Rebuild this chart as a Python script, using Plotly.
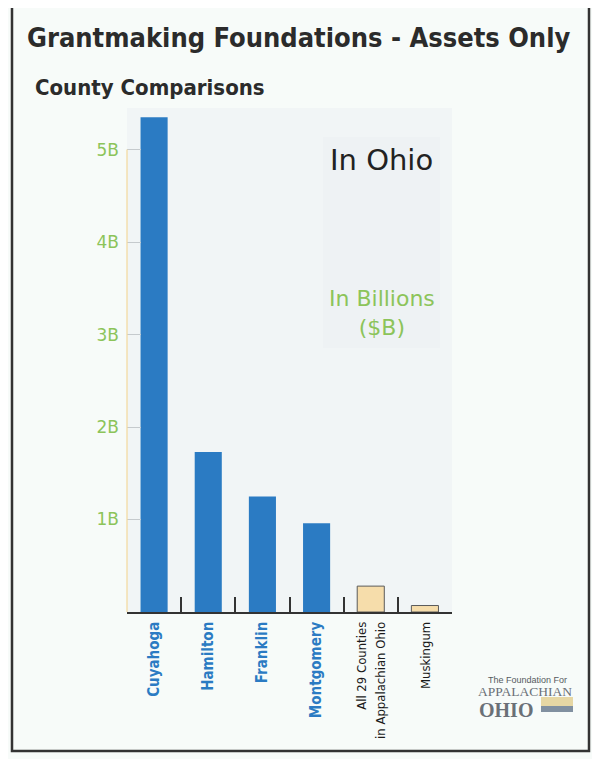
import plotly.graph_objects as go

# ---- data ----
counties = ["Cuyahoga", "Hamilton", "Franklin", "Montgomery",
            "All 29 Counties<br>in Appalachian Ohio", "Muskingum"]
assets_billions = [5.35, 1.73, 1.25, 0.96, 0.28, 0.07]
groups = ["metro", "metro", "metro", "metro", "appalachian", "appalachian"]
ytick_vals = [1, 2, 3, 4, 5]
ytick_text = ["1B", "2B", "3B", "4B", "5B"]

# ---- styles ----
OFF = 8                      # page body margin in the browser
W, H = 600 - OFF, 759 - OFF
ML, MR, MT, MB = 119, 148, 100, 147
BLUE = "#2b7bc3"
BEIGE = "#f6ddab"
GREEN = "#8cc45a"
COND = "DejaVu Sans Condensed, DejaVu Sans, sans-serif"
VERD = "DejaVu Sans, Verdana, sans-serif"
SERIF = "Liberation Serif, DejaVu Serif, serif"

PW = W - ML - MR
PH = H - MT - MB


def px(x):
    """window pixel x (reference) -> paper x"""
    return (x - OFF - ML) / PW


def py(y):
    """window pixel y (reference) -> paper y"""
    return (H - MB - (y - OFF)) / PH


colors = [BLUE if g == "metro" else BEIGE for g in groups]
line_colors = [BLUE if g == "metro" else "#5a5a5a" for g in groups]
line_widths = [0 if g == "metro" else 1 for g in groups]

ticktext = []
for name, g in zip(counties, groups):
    if g == "metro":
        ticktext.append(f'<span style="color:{BLUE}"><b>{name}</b></span>')
    else:
        ticktext.append(f'<span style="color:#1a1a1a;font-size:13px">{name}</span>')

fig = go.Figure(go.Bar(
    x=counties, y=assets_billions,
    marker=dict(color=colors, line=dict(color=line_colors, width=line_widths)),
    hoverinfo="skip",
))

shapes = [
    # outer frame
    dict(type="rect", xref="paper", yref="paper",
         x0=px(12), x1=px(589), y0=py(751), y1=py(5),
         line=dict(color="#333333", width=2.5), fillcolor="rgba(0,0,0,0)", layer="below"),
    # shaded box behind notes
    dict(type="rect", xref="paper", yref="paper",
         x0=px(323), x1=px(440), y0=py(348), y1=py(137),
         line=dict(width=0), fillcolor="#eef2f4", layer="below"),
    # yellow y-axis line
    dict(type="line", xref="paper", yref="y", x0=0, x1=0, y0=0, y1=5,
         line=dict(color="#f3d99c", width=1.2)),
    # logo landscape
    dict(type="rect", xref="paper", yref="paper",
         x0=px(541), x1=px(573), y0=py(706), y1=py(697),
         line=dict(width=0), fillcolor="#e6d7a4"),
    dict(type="rect", xref="paper", yref="paper",
         x0=px(541), x1=px(573), y0=py(712), y1=py(706),
         line=dict(width=0), fillcolor="#8190a0"),
]

annotations = [
    dict(text="<b>Grantmaking Foundations - Assets Only</b>", xref="paper", yref="paper",
         x=px(25), y=py(37), xanchor="left", yanchor="middle", showarrow=False,
         font=dict(family=COND, size=27, color="#2b2b2b")),
    dict(text="<b>County Comparisons</b>", xref="paper", yref="paper",
         x=px(33), y=py(88), xanchor="left", yanchor="middle", showarrow=False,
         font=dict(family=COND, size=22, color="#2b2b2b")),
    dict(text="In Ohio", xref="paper", yref="paper",
         x=px(381), y=py(160), xanchor="center", yanchor="middle", showarrow=False,
         font=dict(family=VERD, size=29, color="#222222")),
    dict(text="In Billions<br>($B)", xref="paper", yref="paper",
         x=px(382), y=py(313), xanchor="center", yanchor="middle", showarrow=False,
         font=dict(family=VERD, size=22, color=GREEN)),
    dict(text="The Foundation For", xref="paper", yref="paper",
         x=px(527), y=py(680), xanchor="center", yanchor="middle", showarrow=False,
         font=dict(family="Liberation Sans, Arial, sans-serif", size=9, color="#555a60")),
    dict(text="APPALACHIAN", xref="paper", yref="paper",
         x=px(525), y=py(691), xanchor="center", yanchor="middle", showarrow=False,
         font=dict(family=SERIF, size=13.5, color="#6a7077")),
    dict(text="<b>OHIO</b>", xref="paper", yref="paper",
         x=px(477), y=py(710), xanchor="left", yanchor="middle", showarrow=False,
         font=dict(family=SERIF, size=20, color="#6a7077")),
]

fig.update_layout(
    width=W, height=H,
    margin=dict(l=ML, r=MR, t=MT, b=MB, autoexpand=False),
    paper_bgcolor="#f7fbf9",
    plot_bgcolor="#f1f5f6",
    showlegend=False,
    bargap=0.5,
    shapes=shapes,
    annotations=annotations,
    xaxis=dict(
        type="category",
        tickmode="array", tickvals=counties, ticktext=ticktext,
        tickangle=-90,
        tickfont=dict(family=COND, size=15),
        ticks="inside", tickson="boundaries", ticklen=15,
        tickcolor="#333333", tickwidth=1.5,
        showline=True, linecolor="#333333", linewidth=1.5,
        showgrid=False, zeroline=False, fixedrange=True,
        ticklabelstandoff=2,
    ),
    yaxis=dict(
        range=[0, 5.45],
        tickmode="array", tickvals=ytick_vals, ticktext=ytick_text,
        tickfont=dict(family=VERD, size=17, color=GREEN),
        ticks="inside", ticklen=14, tickcolor="#c5cacd", tickwidth=1,
        showline=False, showgrid=False, zeroline=False, fixedrange=True,
        ticklabelstandoff=7,
    ),
)

fig.write_html("out.html")
